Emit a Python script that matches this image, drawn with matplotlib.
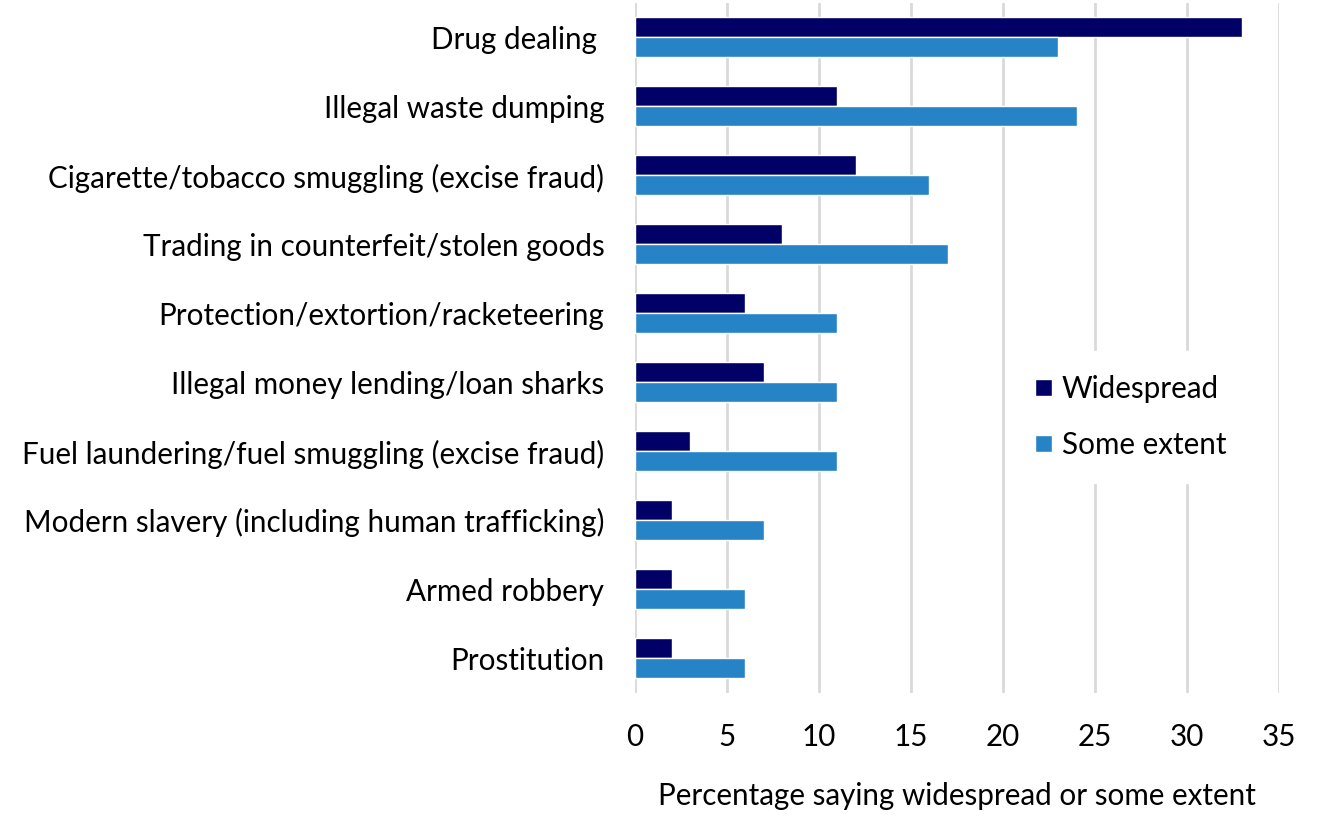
import matplotlib
matplotlib.use("Agg")
import matplotlib.pyplot as plt
import numpy as np

categories = [
    "Drug dealing ",
    "Illegal waste dumping",
    "Cigarette/tobacco smuggling (excise fraud)",
    "Trading in counterfeit/stolen goods",
    "Protection/extortion/racketeering",
    "Illegal money lending/loan sharks",
    "Fuel laundering/fuel smuggling (excise fraud)",
    "Modern slavery (including human trafficking)",
    "Armed robbery",
    "Prostitution",
]
widespread = [33, 11, 12, 8, 6, 7, 3, 2, 2, 2]
some_extent = [23, 24, 16, 17, 11, 11, 11, 7, 6, 6]
series_names = ["Widespread", "Some extent"]
xticks = [0, 5, 10, 15, 20, 25, 30, 35]
xlabel = "Percentage saying widespread or some extent"

plt.rcParams["font.family"] = ["Lato", "DejaVu Sans"]
FS = 21.3

fig = plt.figure(figsize=(13.2, 8.16), dpi=100)
ax = fig.add_axes([0.481, 0.151, 0.488, 0.845])

y = np.arange(len(categories))
h = 0.29
ax.barh(y - 0.155, widespread, height=h, color="#000066", edgecolor="white",
        linewidth=1, label=series_names[0], zorder=3)
ax.barh(y + 0.14, some_extent, height=h, color="#2683C6", edgecolor="white",
        linewidth=1, label=series_names[1], zorder=3)

ax.set_ylim(len(categories) - 0.5, -0.5)
ax.set_xlim(0, 35)
ax.set_yticks(y)
ax.set_yticklabels(categories, fontsize=FS)
ax.set_xticks(xticks)
ax.set_xticklabels([str(t) for t in xticks], fontsize=FS)
ax.tick_params(axis="both", length=0)
ax.tick_params(axis="x", pad=22)
ax.tick_params(axis="y", pad=22)

for s in ax.spines.values():
    s.set_visible(False)
ax.xaxis.grid(True, color="#d9d9d9", linewidth=2, zorder=0)
ax.set_axisbelow(True)

ax.set_xlabel(xlabel, fontsize=FS, labelpad=22)

leg = ax.legend(loc="center left", bbox_to_anchor=(0.562, 0.40), fontsize=FS,
                frameon=True, framealpha=1, edgecolor="white", fancybox=False,
                handlelength=0.55, handleheight=0.55, handletextpad=0.35,
                labelspacing=0.95, borderpad=0.8)

fig.savefig("out.png", dpi=100)
